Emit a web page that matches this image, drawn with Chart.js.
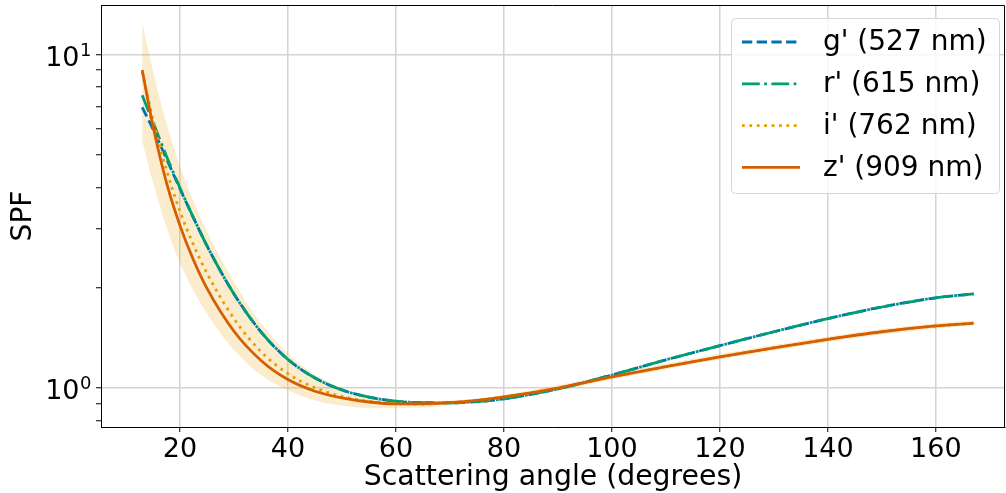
<!DOCTYPE html>
<html>
<head>
<meta charset="utf-8">
<script src="https://cdn.jsdelivr.net/npm/chart.js@4"></script>
<style>
  html, body { margin: 0; padding: 0; background: #fff; }
  canvas { display: block; }
</style>
</head>
<body>
<canvas id="spf" width="1006" height="493"></canvas>
<script>
// scattering angles (degrees) where the curves are sampled
const angles = [13, 15, 17.5, 20, 22.5, 25, 30, 35, 40, 45, 50, 55, 60, 65, 70, 75, 80, 90, 100, 110, 120, 130, 140, 150, 160, 167];

// SPF per filter
const gPrime = [6.95, 5.98, 4.87, 3.96, 3.24, 2.67, 1.915, 1.474, 1.218, 1.072, 0.987, 0.939, 0.913, 0.904, 0.903, 0.91, 0.928, 0.994, 1.094, 1.215, 1.34, 1.475, 1.615, 1.75, 1.865, 1.915];
const rPrime = [7.55, 6.27, 4.96, 3.98, 3.24, 2.67, 1.915, 1.474, 1.218, 1.072, 0.987, 0.939, 0.913, 0.904, 0.903, 0.91, 0.928, 0.994, 1.094, 1.215, 1.34, 1.475, 1.615, 1.75, 1.865, 1.915];
const iPrime = [8.85, 6.39, 4.51, 3.39, 2.69, 2.21, 1.614, 1.286, 1.104, 1.001, 0.943, 0.912, 0.898, 0.895, 0.904, 0.918, 0.94, 1.0, 1.08, 1.16, 1.24, 1.32, 1.40, 1.475, 1.535, 1.565];
const zPrime = [9.0, 6.11, 4.13, 3.07, 2.42, 1.99, 1.48, 1.21, 1.06, 0.978, 0.934, 0.908, 0.896, 0.897, 0.904, 0.918, 0.94, 1.0, 1.08, 1.16, 1.24, 1.32, 1.40, 1.475, 1.535, 1.565];

// uncertainty envelope of i'
const iUpper = [12.5, 8.92, 6.22, 4.63, 3.63, 2.95, 2.08, 1.564, 1.267, 1.097, 0.999, 0.944, 0.919, 0.909, 0.917, 0.931, 0.953, 1.019, 1.10, 1.182, 1.264, 1.345, 1.427, 1.503, 1.564, 1.595];
const iLower = [5.52, 4.13, 3.04, 2.37, 1.96, 1.67, 1.30, 1.094, 0.984, 0.917, 0.885, 0.871, 0.869, 0.874, 0.888, 0.903, 0.927, 0.982, 1.061, 1.139, 1.218, 1.296, 1.375, 1.448, 1.507, 1.537];

const xTicks = [20, 40, 60, 80, 100, 120, 140, 160];
const yTicks = [0.8, 0.9, 1, 2, 3, 4, 5, 6, 7, 8, 9, 10];
// decade labels: value -> exponent
const yDecades = [[1, '0'], [10, '1']];

const FONT = 'DejaVu Sans';
const LW = 2.8;
const pts = ys => angles.map((x, k) => ({ x: x, y: ys[k] }));
const isDecade = v => yDecades.some(d => d[0] === v);

const line = (label, ys, color, dash, order) => ({
  label: label,
  data: pts(ys),
  borderColor: color,
  backgroundColor: color,
  borderWidth: LW,
  borderDash: dash,
  pointRadius: 0,
  fill: false,
  cubicInterpolationMode: 'monotone',
  order: order
});

// top/right edges of the box and the 10^n labels of the log axis
const axesBox = {
  id: 'axesBox',
  afterDraw(chart) {
    const { ctx, chartArea: a } = chart;
    const y = chart.scales.y;
    ctx.save();
    ctx.strokeStyle = '#000';
    ctx.lineWidth = 1;
    ctx.beginPath();
    ctx.moveTo(a.left, a.top + 0.5);
    ctx.lineTo(a.right - 0.5, a.top + 0.5);
    ctx.lineTo(a.right - 0.5, a.bottom);
    ctx.stroke();

    ctx.fillStyle = '#000';
    ctx.textBaseline = 'alphabetic';
    yDecades.forEach(([v, exp]) => {
      const py = y.getPixelForValue(v);
      ctx.font = '27px "' + FONT + '"';
      ctx.textAlign = 'right';
      ctx.fillText('10', 79.5, py + 11);
      ctx.font = '18px "' + FONT + '"';
      ctx.textAlign = 'left';
      ctx.fillText(exp, 80, py + 1);
    });
    ctx.restore();
  }
};

// legend drawn inside the plot, upper right
const legendBox = {
  id: 'legendBox',
  afterDatasetsDraw(chart) {
    const ctx = chart.ctx;
    const items = chart.data.datasets.filter(d => d.label);
    const x0 = 731, y0 = 18, w = 268, h = 175;
    ctx.save();
    ctx.beginPath();
    ctx.roundRect(x0 + 0.5, y0 + 0.5, w, h, 4);
    ctx.fillStyle = 'rgba(255,255,255,0.8)';
    ctx.fill();
    ctx.strokeStyle = '#d6d6d6';
    ctx.lineWidth = 1;
    ctx.stroke();
    ctx.font = '28px "' + FONT + '"';
    ctx.textBaseline = 'middle';
    items.forEach((d, k) => {
      const y = 42 + k * 41.8;
      ctx.beginPath();
      ctx.setLineDash(d.borderDash || []);
      ctx.strokeStyle = d.borderColor;
      ctx.lineWidth = LW;
      ctx.moveTo(742, y);
      ctx.lineTo(800, y);
      ctx.stroke();
      ctx.setLineDash([]);
      ctx.fillStyle = '#000';
      ctx.fillText(d.label, 823, y + 1);
    });
    ctx.restore();
  }
};

new Chart(document.getElementById('spf').getContext('2d'), {
  type: 'line',
  data: {
    datasets: [
      {
        data: pts(iUpper),
        borderWidth: 0,
        pointRadius: 0,
        backgroundColor: 'rgba(230,159,0,0.2)',
        fill: '+1',
        cubicInterpolationMode: 'monotone',
        order: 10
      },
      {
        data: pts(iLower),
        borderWidth: 0,
        pointRadius: 0,
        fill: false,
        cubicInterpolationMode: 'monotone',
        order: 9
      },
      line("g' (527 nm)", gPrime, '#0072B2', [10.3, 4.4], 4),
      line("r' (615 nm)", rPrime, '#009E73', [17.8, 4.4, 2.8, 4.4], 3),
      line("i' (762 nm)", iPrime, '#E69F00', [2.8, 4.6], 2),
      line("z' (909 nm)", zPrime, '#D55E00', [], 1)
    ]
  },
  options: {
    responsive: false,
    animation: false,
    devicePixelRatio: 1,
    layout: { padding: { top: 5, right: 1, left: 0, bottom: 0 } },
    plugins: {
      legend: { display: false },
      tooltip: { enabled: false }
    },
    scales: {
      x: {
        type: 'linear',
        bounds: 'data',
        min: 5.37,
        max: 172.8,
        afterBuildTicks: s => { s.ticks = xTicks.map(v => ({ value: v })); },
        afterFit: s => { s.height = 66; s.paddingLeft = 0; s.paddingRight = 0; },
        grid: { color: '#d4d4d4', lineWidth: 1.5, tickColor: '#000', tickLength: 5, tickWidth: 1 },
        border: { color: '#000', width: 1 },
        ticks: {
          color: '#000',
          padding: 2,
          maxRotation: 0,
          font: { family: FONT, size: 27 }
        },
        title: {
          display: true,
          text: 'Scattering angle (degrees)',
          color: '#000',
          font: { family: FONT, size: 28.3, lineHeight: 1.1 },
          padding: 0
        }
      },
      y: {
        type: 'logarithmic',
        bounds: 'data',
        min: 0.764,
        max: 14.09,
        afterBuildTicks: s => { s.ticks = yTicks.map(v => ({ value: v })); },
        afterFit: s => { s.width = 101; s.paddingTop = 0; s.paddingBottom = 0; },
        grid: {
          color: c => (c.tick && isDecade(c.tick.value) ? '#d4d4d4' : 'rgba(0,0,0,0)'),
          lineWidth: 1.5,
          tickColor: '#000',
          tickWidth: 1,
          tickLength: 5
        },
        border: { color: '#000', width: 1 },
        ticks: {
          color: '#000',
          font: { family: FONT, size: 27 },
          callback: () => ''
        },
        title: {
          display: true,
          text: 'SPF',
          color: '#000',
          font: { family: FONT, size: 28, lineHeight: 1.1 },
          padding: { top: 8 }
        }
      }
    }
  },
  plugins: [axesBox, legendBox]
});
</script>
</body>
</html>
